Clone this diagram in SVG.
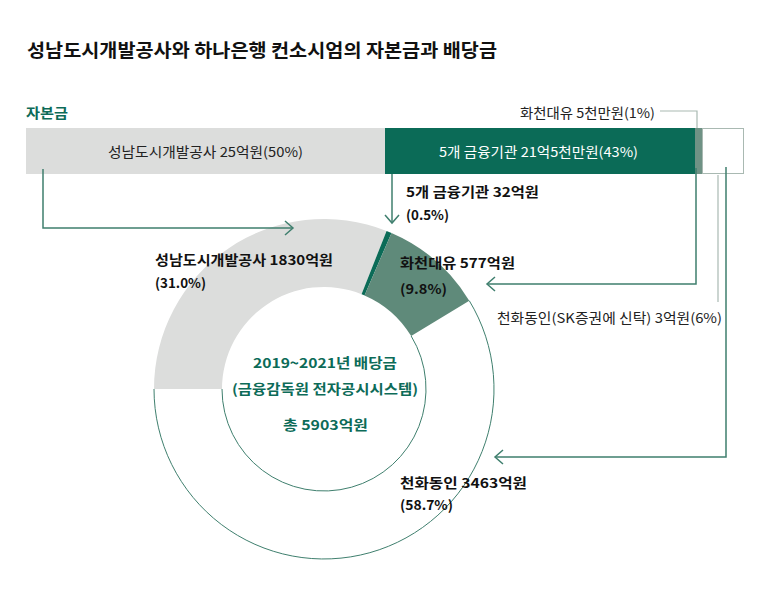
<svg xmlns="http://www.w3.org/2000/svg" width="768" height="591" viewBox="0 0 768 591">
<style>
text{font-family:"Noto Sans CJK KR","Noto Sans",sans-serif;}
.t{font-size:13.5px;fill:#222;}
.b{font-size:13.5px;font-weight:bold;fill:#111;}
.g{font-size:13.5px;font-weight:bold;fill:#0d6b58;}
.cg{fill:none;stroke:#3f7f6e;stroke-width:1.5;}
.cl{fill:none;stroke:#a9b9b2;stroke-width:1.2;}
</style>
<defs>
<marker id="arr" markerUnits="userSpaceOnUse" markerWidth="20" markerHeight="20" viewBox="-10 -10 20 20" refX="0" refY="0" orient="auto">
<path d="M-8,-7 L0,0 L-8,7" fill="none" stroke="#3f7f6e" stroke-width="1.5"/>
</marker>
</defs>
<rect width="768" height="591" fill="#fff"/>
<text x="27" y="57" style="font-size:18.5px;font-weight:bold;fill:#111" textLength="470" lengthAdjust="spacingAndGlyphs">성남도시개발공사와 하나은행 컨소시엄의 자본금과 배당금</text>
<text x="26" y="118" class="g" style="font-size:14px" textLength="42" lengthAdjust="spacingAndGlyphs">자본금</text>

<g id="bar">
<rect x="26" y="128" width="359" height="46" fill="#dcdddc"/>
<rect x="385" y="128" width="310" height="46" fill="#0b6b57"/>
<rect x="695" y="128" width="7" height="46" fill="#6f9285"/>
<rect x="702.5" y="128.5" width="41" height="45" fill="#fff" stroke="#a9b9b2" stroke-width="1"/>
<text x="108" y="157" class="t" textLength="195" lengthAdjust="spacingAndGlyphs">성남도시개발공사 25억원(50%)</text>
<text x="439" y="157" class="t" style="fill:#fff" textLength="199" lengthAdjust="spacingAndGlyphs">5개 금융기관 21억5천만원(43%)</text>
</g>

<g id="donut">
<path d="M154,389 A170,170 0 0 1 386.58,230.93 L361.55,294.16 A102,102 0 0 0 222,389 Z" fill="#dcdddc"/>
<path d="M386.58,230.93 A170,170 0 0 1 391.51,232.97 L364.50,295.38 A102,102 0 0 0 361.55,294.16 Z" fill="#0b6b57"/>
<path d="M391.51,232.97 A170,170 0 0 1 469.27,300.68 L411.16,336.01 A102,102 0 0 0 364.50,295.38 Z" fill="#5f8a7a"/>
<path d="M469.27,300.68 A170,170 0 1 1 154,389" fill="none" stroke="#3f7f6e" stroke-width="1"/>
<path d="M411.16,336.01 A102,102 0 1 1 222,389" fill="none" stroke="#3f7f6e" stroke-width="1"/>
</g>

<g id="connectors">
<path class="cg" d="M43,169 V228 H293" marker-end="url(#arr)"/>
<path class="cg" d="M392,174 V223" marker-end="url(#arr)"/>
<path class="cl" d="M660,111 H697 V128"/>
<path class="cg" d="M696,168 V284 H487" marker-end="url(#arr)"/>
<path class="cl" d="M718,175 V302"/>
<path class="cg" d="M726,167 V457 H495" marker-end="url(#arr)"/>
</g>

<g id="labels">
<text x="520" y="118" class="t" textLength="135" lengthAdjust="spacingAndGlyphs">화천대유 5천만원(1%)</text>
<text x="406" y="197" class="b" textLength="133" lengthAdjust="spacingAndGlyphs">5개 금융기관 32억원</text>
<text x="406" y="220" class="b" textLength="43" lengthAdjust="spacingAndGlyphs">(0.5%)</text>
<text x="155" y="265" class="b" textLength="178" lengthAdjust="spacingAndGlyphs">성남도시개발공사 1830억원</text>
<text x="155" y="288" class="b" textLength="51" lengthAdjust="spacingAndGlyphs">(31.0%)</text>
<text x="400" y="268" class="b" textLength="115" lengthAdjust="spacingAndGlyphs">화천대유 577억원</text>
<text x="400" y="294" class="b" textLength="47" lengthAdjust="spacingAndGlyphs">(9.8%)</text>
<text x="497" y="323" class="t" textLength="225" lengthAdjust="spacingAndGlyphs">천화동인(SK증권에 신탁) 3억원(6%)</text>
<text x="253" y="368" class="g" textLength="144" lengthAdjust="spacingAndGlyphs">2019~2021년 배당금</text>
<text x="232" y="394" class="g" textLength="186" lengthAdjust="spacingAndGlyphs">(금융감독원 전자공시시스템)</text>
<text x="283" y="430" class="g" textLength="85" lengthAdjust="spacingAndGlyphs">총 5903억원</text>
<text x="400" y="488" class="b" textLength="127" lengthAdjust="spacingAndGlyphs">천화동인 3463억원</text>
<text x="400" y="510" class="b" textLength="53" lengthAdjust="spacingAndGlyphs">(58.7%)</text>
</g>
</svg>
